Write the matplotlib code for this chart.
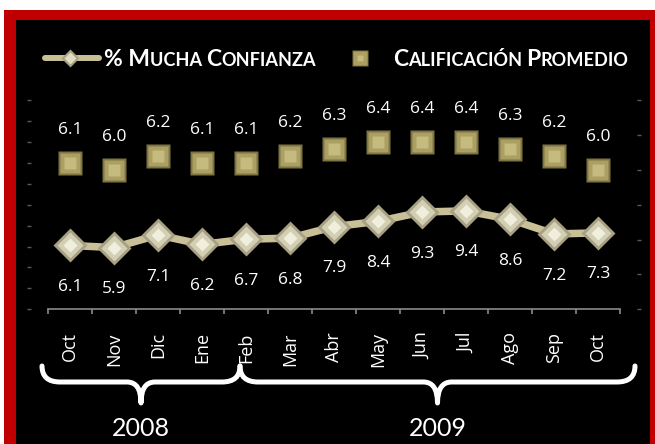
import matplotlib
matplotlib.use("Agg")
import matplotlib.pyplot as plt
from matplotlib.patches import Rectangle, PathPatch
from matplotlib.path import Path
import numpy as np

# ---------------- data ----------------
months = ["Oct", "Nov", "Dic", "Ene", "Feb", "Mar", "Abr", "May", "Jun", "Jul", "Ago", "Sep", "Oct"]
mucha_confianza = [6.1, 5.9, 7.1, 6.2, 6.7, 6.8, 7.9, 8.4, 9.3, 9.4, 8.6, 7.2, 7.3]
calificacion_promedio = [6.1, 6.0, 6.2, 6.1, 6.1, 6.2, 6.3, 6.4, 6.4, 6.4, 6.3, 6.2, 6.0]
years = ["2008", "2009"]
legend_runs = [
    [("% M", "big"), ("UCHA ", "small"), ("C", "big"), ("ONFIANZA", "small")],
    [("C", "big"), ("ALIFICACIÓN ", "small"), ("P", "big"), ("ROMEDIO", "small")],
]

# ---------------- style ----------------
W, H = 655, 444
plt.rcParams["font.family"] = ["Open Sans", "DejaVu Sans"]
LINE_C = "#c9c098"
TICK_C = "#8a8a8a"

fig = plt.figure(figsize=(W / 100, H / 100), dpi=100, facecolor="white")

def fx(x):
    return x / W

def fy(y):
    return 1 - y / H

# red frame + black panel
fig.add_artist(Rectangle((fx(4), -0.1), 1.2, fy(10) + 0.1, transform=fig.transFigure,
                         facecolor="#c00000", edgecolor="none", zorder=-10))
fig.add_artist(Rectangle((fx(16), -0.1), fx(650) - fx(16), fy(20) + 0.1, transform=fig.transFigure,
                         facecolor="black", edgecolor="none", zorder=-9))

# main axes
ax_left, ax_right, ax_top, ax_bottom = 48, 620, 100, 309.3
ax = fig.add_axes([fx(ax_left), fy(ax_bottom), fx(ax_right - ax_left), (ax_bottom - ax_top) / H])
ax.patch.set_visible(False)
ax2 = ax.twinx()
ax2.patch.set_visible(False)

x = np.arange(len(months))
ax.set_xlim(-0.5, len(months) - 0.5)
ax.set_ylim(0, 20)
ax2.set_ylim(4, 7)

# line series
ax.plot(x, mucha_confianza, color=LINE_C, lw=5.4, solid_capstyle="round", zorder=2)
ax.plot(x, mucha_confianza, ls="none", marker="D", ms=17, mfc="#a7a083", mec="none", zorder=3)
ax.plot(x, mucha_confianza, ls="none", marker="D", ms=13.5, mfc="#d3cfb4", mec="none", zorder=4)
ax.plot(x, mucha_confianza, ls="none", marker="D", ms=7, mfc="#f0eedd", mec="none", zorder=5)

# square series
ax2.plot(x, calificacion_promedio, ls="none", marker="s", ms=17.3, mfc="#7d7444", mec="none", zorder=3)
ax2.plot(x, calificacion_promedio, ls="none", marker="s", ms=15, mfc="#ab9f62", mec="none", zorder=4)
ax2.plot(x, calificacion_promedio, ls="none", marker="s", ms=8, mfc="#c6bb7e", mec="none", zorder=5)

for xi, v in zip(x, mucha_confianza):
    ax.annotate(f"{v:.1f}", (xi, v), xytext=(0, -32.8), textcoords="offset points",
                ha="center", va="baseline", color="white", fontsize=12.5)
for xi, v in zip(x, calificacion_promedio):
    ax2.annotate(f"{v:.1f}", (xi, v), xytext=(0, 20.5), textcoords="offset points",
                 ha="center", va="baseline", color="white", fontsize=12.5)

# axes styling
for s in ["top", "left", "right"]:
    ax.spines[s].set_visible(False)
for s in ax2.spines.values():
    s.set_visible(False)
ax.spines["bottom"].set_color(TICK_C)
ax.spines["bottom"].set_linewidth(1.2)

ax.set_xticks(np.arange(-0.5, len(months), 1))
ax.set_xticks(x, minor=True)
ax.set_xticklabels(months, minor=True, rotation=90)
ax.tick_params(axis="x", which="major", length=3.8, width=1.2, color=TICK_C, labelbottom=False)
ax.tick_params(axis="x", which="minor", length=0, pad=16.5, labelcolor="white", labelsize=13)

ax.set_yticks(np.arange(0, 21, 2))
ax.tick_params(axis="y", which="major", direction="inout", length=3, width=1, color="#5a5a5a", labelleft=False)
ax.spines["left"].set_position(("outward", 19 * 0.72))
ax2.set_yticks(np.arange(4, 7.01, 0.5))
ax2.tick_params(axis="y", which="major", direction="inout", length=3, width=1, color="#5a5a5a", labelright=False)
ax2.spines["right"].set_position(("outward", 19 * 0.72))

# decoration overlay in pixel coordinates
deco = fig.add_axes([0, 0, 1, 1], zorder=5)
deco.set_xlim(0, W)
deco.set_ylim(H, 0)
deco.axis("off")

def brace(x0, x1, yt, yl, yc, r, rc):
    xm = (x0 + x1) / 2
    verts = [(x0, yt), (x0, yl), (x0 + r, yl), (xm - rc, yl), (xm, yl), (xm, yc),
             (xm, yl), (xm + rc, yl), (x1 - r, yl), (x1, yl), (x1, yt)]
    codes = [Path.MOVETO, Path.CURVE3, Path.CURVE3, Path.LINETO, Path.CURVE3, Path.CURVE3,
             Path.CURVE3, Path.CURVE3, Path.LINETO, Path.CURVE3, Path.CURVE3]
    deco.add_patch(PathPatch(Path(verts, codes), facecolor="none", edgecolor="white",
                             lw=3.6, capstyle="round", joinstyle="round"))
    return xm

brace_spans = [(42, 240), (240, 635)]
for (b0, b1), yr in zip(brace_spans, years):
    xm = brace(b0, b1, 366, 382, 403, 18, 14)
    deco.text(xm, 428, yr, ha="center", va="center", color="white", fontsize=18, family="Lato")

# legend
deco.plot([45, 99], [58, 58], color=LINE_C, lw=4.3, solid_capstyle="round")
deco.plot([70], [58], marker="D", ms=9, mfc="#a7a083", mec="none")
deco.plot([70], [58], marker="D", ms=6.5, mfc="#e0dcc2", mec="none")
deco.plot([360], [58], marker="s", ms=12, mfc="#7d7444", mec="none")
deco.plot([360], [58], marker="s", ms=10, mfc="#ab9f62", mec="none")
deco.plot([360], [58], marker="s", ms=5, mfc="#c6bb7e", mec="none")

renderer = fig.canvas.get_renderer()
sizes = {"big": 16.5, "small": 13.1}

def smallcaps(x0, ybase, runs):
    xc = x0
    for txt, kind in runs:
        t = deco.text(xc, ybase, txt, ha="left", va="baseline", color="white",
                      fontsize=sizes[kind], fontweight="bold", family="Lato")
        bb = t.get_window_extent(renderer)
        xc += bb.width
    return xc

smallcaps(104, 65.7, legend_runs[0])
smallcaps(393, 65.7, legend_runs[1])

fig.savefig("out.png", dpi=100, facecolor="white")
